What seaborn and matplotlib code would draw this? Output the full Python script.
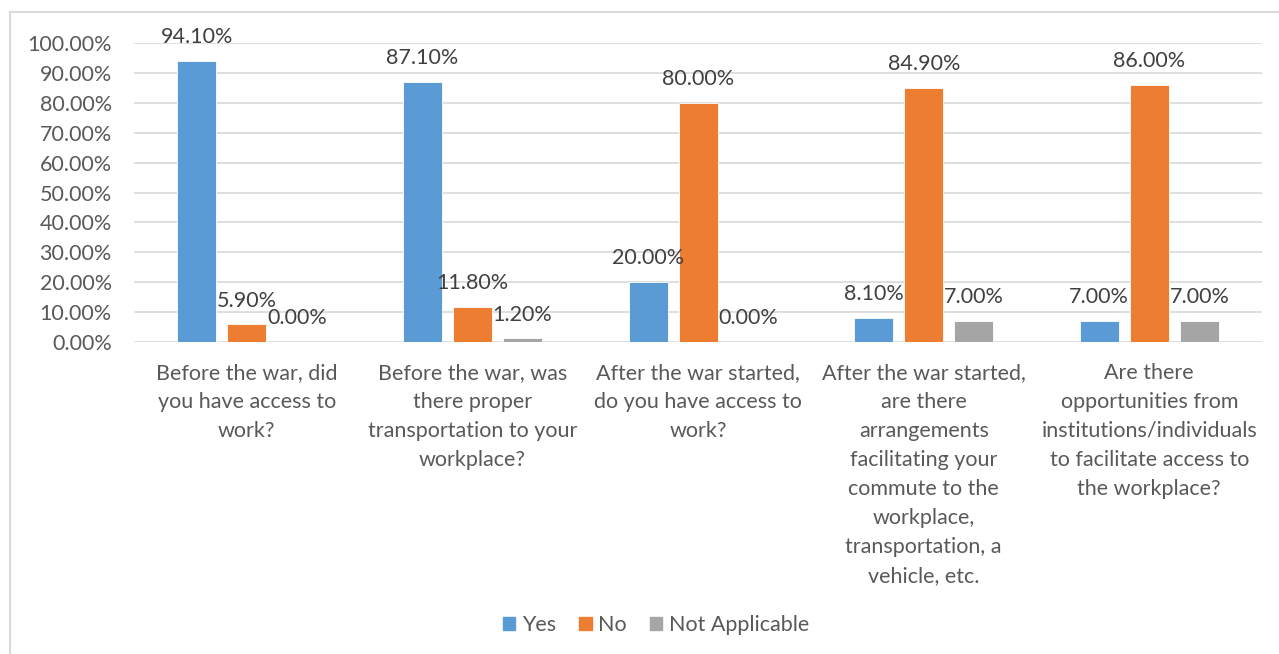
import matplotlib
matplotlib.use("Agg")
import matplotlib.pyplot as plt
from matplotlib.patches import Rectangle
from matplotlib.ticker import PercentFormatter
import seaborn as sns
import pandas as pd

questions = [
    "Before the war, did\nyou have access to\nwork?",
    "Before the war, was\nthere proper\ntransportation to your\nworkplace?",
    "After the war started,\ndo you have access to\nwork?",
    "After the war started,\nare there\narrangements\nfacilitating your\ncommute to the\nworkplace,\ntransportation, a\nvehicle, etc.",
    "Are there\nopportunities from\ninstitutions/individuals\nto facilitate access to\nthe workplace?",
]
answers = ["Yes", "No", "Not Applicable"]
yes_pct = [94.10, 87.10, 20.00, 8.10, 7.00]
no_pct = [5.90, 11.80, 80.00, 84.90, 86.00]
na_pct = [0.00, 1.20, 0.00, 7.00, 7.00]
colors = ["#5B9BD5", "#ED7D31", "#A5A5A5"]

rows = []
for ans, vals in zip(answers, [yes_pct, no_pct, na_pct]):
    for q, v in zip(questions, vals):
        rows.append({"question": q, "answer": ans, "pct": v / 100})
df = pd.DataFrame(rows)

sns.set_theme(style="white")
plt.rcParams["font.family"] = ["Lato", "DejaVu Sans"]
FS = 15.5

fig = plt.figure(figsize=(12.79, 6.54), dpi=100)
ax = fig.add_axes([0.1048, 0.477, 0.882, 0.457])

sns.barplot(data=df, x="question", y="pct", hue="answer", order=questions,
            hue_order=answers, palette=colors, width=0.665, gap=0.22,
            saturation=1, edgecolor="white", linewidth=0.6, ax=ax,
            legend=True)

ax.set_ylim(0, 1.0)
ax.set_yticks([i / 10 for i in range(11)])
ax.yaxis.set_major_formatter(PercentFormatter(1.0, decimals=2))
ax.grid(axis="y", color="#D9D9D9", linewidth=1.2)
ax.set_axisbelow(True)
for s in ax.spines.values():
    s.set_visible(False)
ax.set_xlabel("")
ax.set_ylabel("")
ax.tick_params(axis="y", labelsize=FS, labelcolor="#595959", length=0, pad=16)
ax.tick_params(axis="x", labelsize=FS, labelcolor="#595959", length=0, pad=15)
for lbl in ax.get_xticklabels():
    lbl.set_linespacing(1.56)
    lbl.set_verticalalignment("top")

for cont in ax.containers:
    ax.bar_label(cont, labels=[f"{b.get_height() * 100:.2f}%" for b in cont],
                 padding=10, fontsize=FS, color="#404040")

ax.get_legend().remove()
handles = [Rectangle((0, 0), 1, 1, color=c) for c in colors]
fig.legend(handles, answers, loc="center", bbox_to_anchor=(0.513, 1 - 625 / 654),
           ncol=3, frameon=False, fontsize=FS, handlelength=0.56,
           handleheight=0.56, handletextpad=0.3, columnspacing=1.1,
           labelcolor="#595959")

fig.patches.append(Rectangle((10 / 1279, -0.1), 1.2, 1 - 12 / 654 + 0.1,
                             transform=fig.transFigure, fill=False,
                             edgecolor="#D9D9D9", linewidth=1.5))

fig.savefig("out.png", dpi=100, facecolor="white")
